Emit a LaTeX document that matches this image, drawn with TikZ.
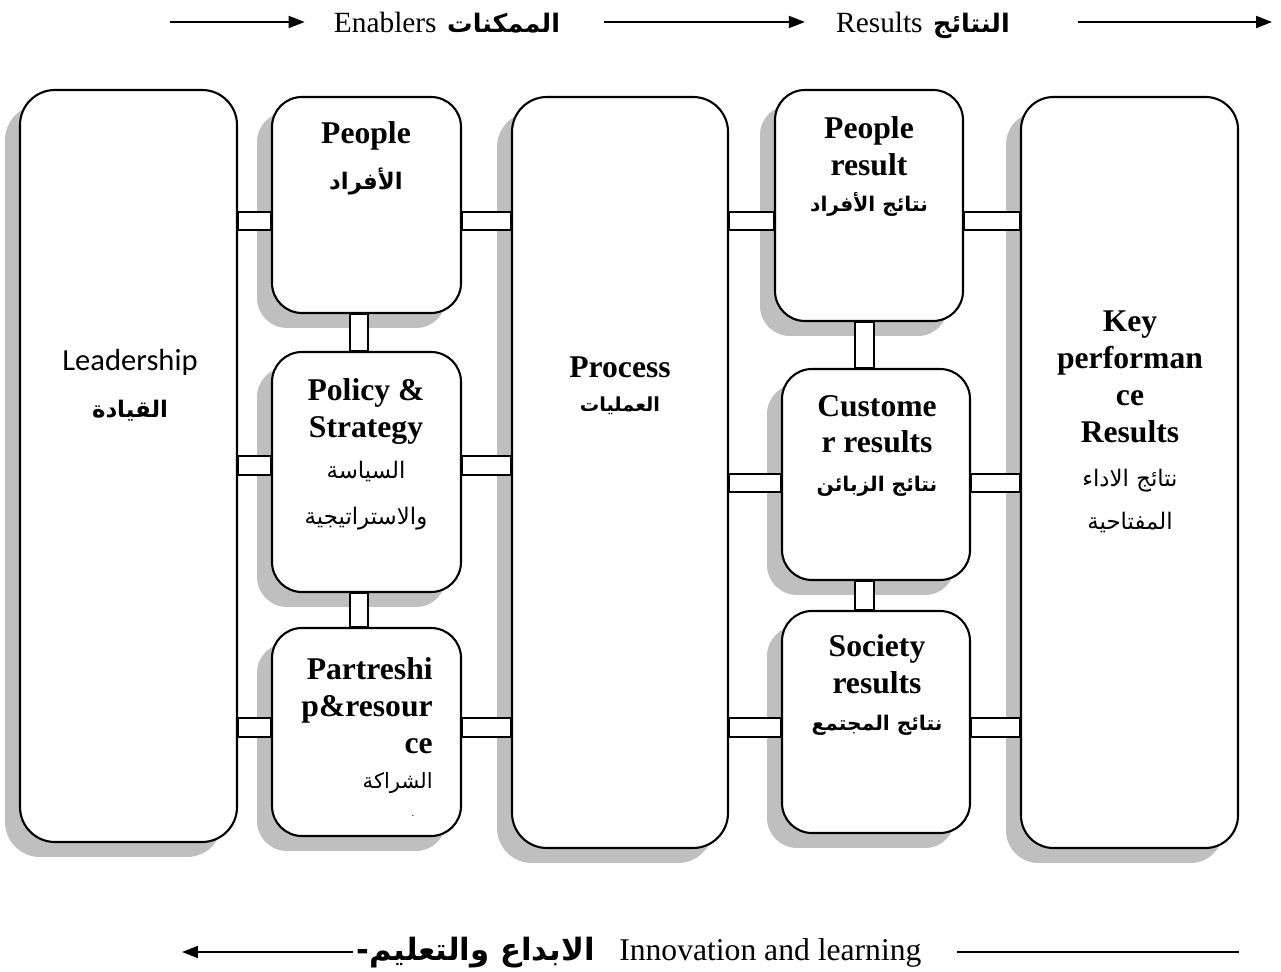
\documentclass[tikz,border=0pt]{standalone}
\usepackage{fontspec}
\setmainfont{Liberation Serif}
\newfontfamily\arfont[Script=Arabic]{DejaVu Sans}
\newfontfamily\calfont{Carlito}
\usetikzlibrary{shadows,fit,arrows.meta,positioning}
\TeXXeTstate=1
\newcommand{\artxt}[2][13]{{\arfont\fontsize{#1}{21}\selectfont\beginR #2\endR}}
\tikzstyle{panel} = [draw, line width=1.2pt, fill=white, rounded corners=0.6cm, inner sep=0pt,
  drop shadow={shadow xshift=-0.3cm, shadow yshift=-0.3cm, fill=black!25, opacity=1}]
\tikzstyle{tallpanel} = [panel, rounded corners=0.7cm]
\tikzstyle{link} = [draw, line width=1pt, fill=white]
\tikzstyle{head} = [font=\bfseries\fontsize{18}{21}\selectfont, align=center, anchor=base, inner sep=0pt]
\tikzstyle{banner} = [font=\fontsize{16.7}{20}\selectfont, anchor=base, inner sep=0pt]
\tikzstyle{flow} = [line width=1.1pt, -{Triangle[length=0.32cm, width=0.24cm]}]

\begin{document}
\begin{tikzpicture}[x=0.02cm, y=-0.02cm]
\useasboundingbox (0,0) rectangle (1281,972);

% the nine blocks
\node[tallpanel, fit={(20,90) (237,842)}] (lead) {};
\node[panel, fit={(272,97) (461,313)}] (people) {};
\node[panel, fit={(272,352) (461,592)}] (policy) {};
\node[panel, fit={(272,628) (461,836)}] (partner) {};
\node[tallpanel, fit={(512,97) (728,848)}] (process) {};
\node[panel, fit={(775,90) (963,321)}] (presult) {};
\node[panel, fit={(782,369) (970,580)}] (cresult) {};
\node[panel, fit={(782,611) (970,833)}] (sresult) {};
\node[tallpanel, rounded corners=0.65cm, fit={(1021,97) (1238,848)}] (kpr) {};

% rows and columns of the small links
\coordinate (r1t) at (0,212); \coordinate (r1b) at (0,230);
\coordinate (r2t) at (0,456); \coordinate (r2b) at (0,475);
\coordinate (r3t) at (0,718); \coordinate (r3b) at (0,737);
\coordinate (q2t) at (0,474); \coordinate (q2b) at (0,492);
\coordinate (v1l) at (350,0); \coordinate (v1r) at (368,0);
\coordinate (v2l) at (855,0); \coordinate (v2r) at (874,0);

\draw[link] (lead.east |- r1t) rectangle (people.west |- r1b);
\draw[link] (lead.east |- r2t) rectangle (policy.west |- r2b);
\draw[link] (lead.east |- r3t) rectangle (partner.west |- r3b);
\draw[link] (people.east |- r1t) rectangle (process.west |- r1b);
\draw[link] (policy.east |- r2t) rectangle (process.west |- r2b);
\draw[link] (partner.east |- r3t) rectangle (process.west |- r3b);
\draw[link] (people.south -| v1l) rectangle (policy.north -| v1r);
\draw[link] (policy.south -| v1l) rectangle (partner.north -| v1r);

\draw[link] (process.east |- r1t) rectangle (presult.west |- r1b);
\draw[link] (process.east |- q2t) rectangle (cresult.west |- q2b);
\draw[link] (process.east |- r3t) rectangle (sresult.west |- r3b);
\draw[link] (presult.east |- r1t) rectangle (kpr.west |- r1b);
\draw[link] (cresult.east |- q2t) rectangle (kpr.west |- q2b);
\draw[link] (sresult.east |- r3t) rectangle (kpr.west |- r3b);
\draw[link] (presult.south -| v2l) rectangle (cresult.north -| v2r);
\draw[link] (cresult.south -| v2l) rectangle (sresult.north -| v2r);

% texts of the blocks (placed on the baseline of their last line)
\node[head, font=\calfont\fontsize{17.4}{21}\selectfont] (leadT) at (130,418)
  {Leadership\\[6.3pt]\artxt{\bfseries القيادة}};
\node[head] (peopleT) at (366,190) {People\\[5.7pt]\artxt{الأفراد}};
\node[head] (policyT) at (366,525)
  {Policy \&\\Strategy\\[2.3pt]\artxt{\mdseries السياسة}\\[5.7pt]\artxt{\mdseries والاستراتيجية}};
\node[head, align=right, anchor=base east] (partnerT) at (433,788)
  {Partreshi\\p\&resour\\ce\\[-1.1pt]\artxt[12]{\mdseries الشراكة}};
\node[font=\fontsize{6}{7}\selectfont, inner sep=0pt] (dot) at (413,816) {.};
\node[head] (processT) at (620,412) {Process\\[-1.1pt]\artxt[11]{العمليات}};
\node[head] (presultT) at (869,212) {People\\result\\\artxt[11.5]{نتائج الأفراد}};
\node[head] (cresultT) at (877,492) {Custome\\r results\\[1.2pt]\artxt[11.5]{نتائج الزبائن}};
\node[head] (sresultT) at (877,730) {Society\\results\\\artxt[11.5]{نتائج المجتمع}};
\node[head] (kprT) at (1130,530)
  {Key\\performan\\ce\\Results\\[4pt]\artxt{\mdseries نتائج الاداء}\\[4pt]\artxt{\mdseries المفتاحية}};

% top and bottom flow
\node[banner] (enab) at (447,33) {Enablers\hspace{6pt}\artxt[14.5]{\bfseries الممكنات}};
\node[banner] (res) at (923,33) {Results\hspace{6pt}\artxt[14.5]{\bfseries النتائج}};
\coordinate (tstart) at (170,22);
\coordinate (tend) at (1272,22);
\draw[flow, shorten >=0.58cm] (tstart) -- (enab.west |- tstart);
\draw[flow, shorten <=0.88cm, shorten >=0.62cm] (enab.east |- tstart) -- (res.west |- tstart);
\draw[flow, shorten <=1.36cm] (res.east |- tstart) -- (tend);

\node[banner, font=\fontsize{18}{21}\selectfont] (inno) at (639,960)
  {\artxt[17.5]{\bfseries الابداع والتعليم-}\hspace{14pt}Innovation and learning};
\coordinate (bstart) at (182,952);
\coordinate (bend) at (1239,952);
\draw[flow, shorten <=0.06cm] (inno.west |- bstart) -- (bstart);
\draw[line width=1.1pt, shorten <=0.7cm] (inno.east |- bend) -- (bend);
\end{tikzpicture}
\end{document}
